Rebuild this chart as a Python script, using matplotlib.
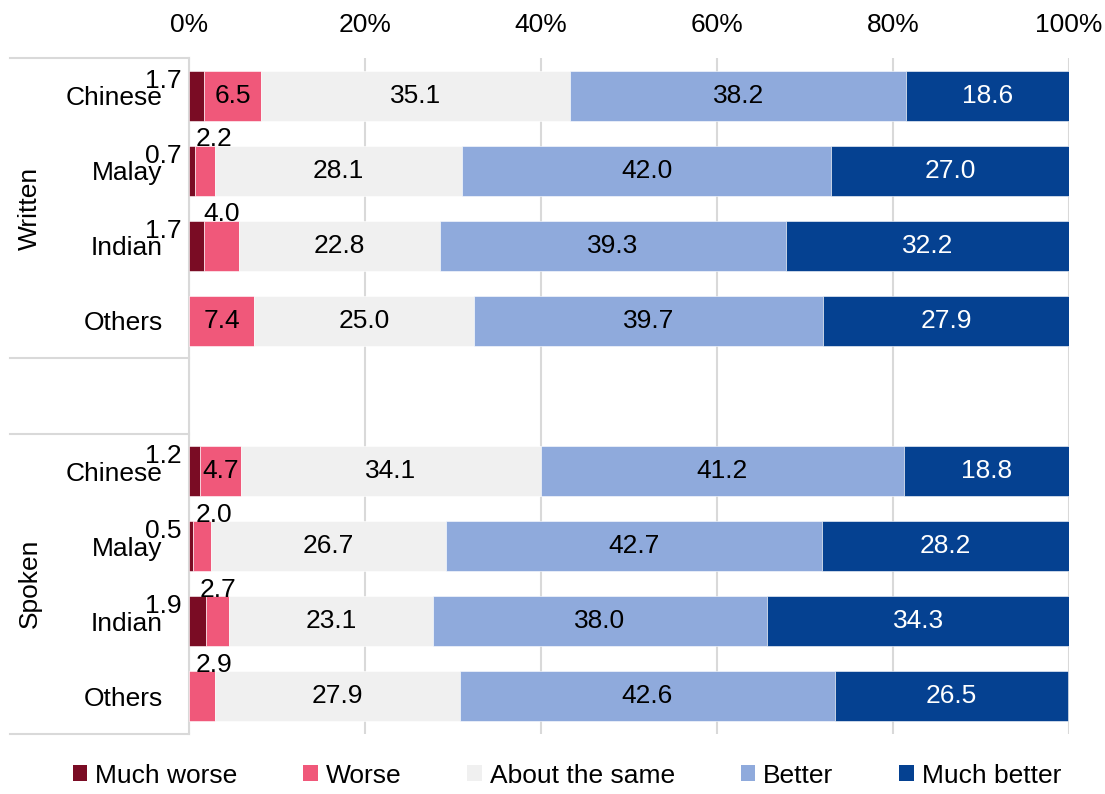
import matplotlib
matplotlib.use('Agg')
import matplotlib.pyplot as plt
import matplotlib.transforms as mtransforms
from matplotlib.patches import Patch

plt.rcParams['font.family'] = ['Liberation Sans', 'DejaVu Sans']

groups = ['Written', 'Spoken']
categories = ['Chinese', 'Malay', 'Indian', 'Others']
series = ['Much worse', 'Worse', 'About the same', 'Better', 'Much better']
xticks = [0, 20, 40, 60, 80, 100]
xticklabels = ['0%', '20%', '40%', '60%', '80%', '100%']

# rows: Written (Chinese, Malay, Indian, Others), Spoken (Chinese, Malay, Indian, Others)
much_worse = [1.7, 0.7, 1.7, 0.0, 1.2, 0.5, 1.9, 0.0]
worse = [6.5, 2.2, 4.0, 7.4, 4.7, 2.0, 2.7, 2.9]
same = [35.1, 28.1, 22.8, 25.0, 34.1, 26.7, 23.1, 27.9]
better = [38.2, 42.0, 39.3, 39.7, 41.2, 42.7, 38.0, 42.6]
much_better = [18.6, 27.0, 32.2, 27.9, 18.8, 28.2, 34.3, 26.5]

colors = ['#7A0C24', '#F0587A', '#F0F0F0', '#8FAADC', '#054191']
text_colors = ['black', 'black', 'black', 'black', 'white']

fig = plt.figure(figsize=(11.05, 7.94), dpi=100)
ax = fig.add_axes([189 / 1105, 1 - 734 / 794, 880 / 1105, 676 / 794])

rows = [0, 1, 2, 3, 5, 6, 7, 8]
labels = categories + categories
data = [much_worse, worse, same, better, much_better]
bar_h = 0.667
fs = 19

lefts = [0.0] * len(rows)
for si, vals in enumerate(data):
    ax.barh(rows, vals, left=lefts, height=bar_h, color=colors[si],
            edgecolor='white', linewidth=0.4, zorder=3)
    for i, (r, v) in enumerate(zip(rows, vals)):
        if v <= 0:
            continue
        c = lefts[i] + v / 2
        txt = f'{v:.1f}'
        if si == 0:
            ax.text(-0.8, r - 0.2, txt, ha='right', va='center', fontsize=fs,
                    color='black', zorder=5, clip_on=False)
        elif si == 1 and v <= 4.0:
            ax.text(max(c, 2.8), r - 0.42, txt, ha='center', va='center',
                    fontsize=fs, color='black', zorder=5)
        else:
            ax.text(c, r, txt, ha='center', va='center', fontsize=fs,
                    color=text_colors[si], zorder=5)
    lefts = [a + b for a, b in zip(lefts, vals)]

ax.set_xlim(0, 100)
ax.set_ylim(8.5, -0.5)
ax.xaxis.tick_top()
ax.set_xticks(xticks)
ax.set_xticklabels(xticklabels, fontsize=fs)
ax.set_yticks(rows)
ax.set_yticklabels(labels, fontsize=fs)
ax.tick_params(axis='x', length=0, pad=15)
ax.tick_params(axis='y', length=0, pad=19)
ax.grid(axis='x', color='#D9D9D9', linewidth=1.5, zorder=0)
ax.set_axisbelow(True)
for s in ['top', 'right', 'bottom']:
    ax.spines[s].set_visible(False)
ax.spines['left'].set_color('#D9D9D9')
ax.spines['left'].set_linewidth(1.5)

trans = mtransforms.blended_transform_factory(ax.transAxes, ax.transData)
for b in [-0.5, 3.5, 4.5, 8.5]:
    ax.plot([-0.2034, 0], [b, b], color='#D9D9D9', linewidth=1.5,
            transform=trans, clip_on=False)
ax.text(-0.1807, 1.5, groups[0], rotation=90, ha='center', va='center',
        fontsize=fs, transform=trans)
ax.text(-0.1807, 6.5, groups[1], rotation=90, ha='center', va='center',
        fontsize=fs, transform=trans)

handles = [Patch(facecolor=c, edgecolor='none') for c in colors]
fig.legend(handles, series, loc='lower center', bbox_to_anchor=(0.513, -0.022),
           ncol=5, frameon=False, fontsize=fs, handlelength=0.55,
           handleheight=0.55, handletextpad=0.3, columnspacing=2.5)

fig.savefig('out.png', dpi=100)
